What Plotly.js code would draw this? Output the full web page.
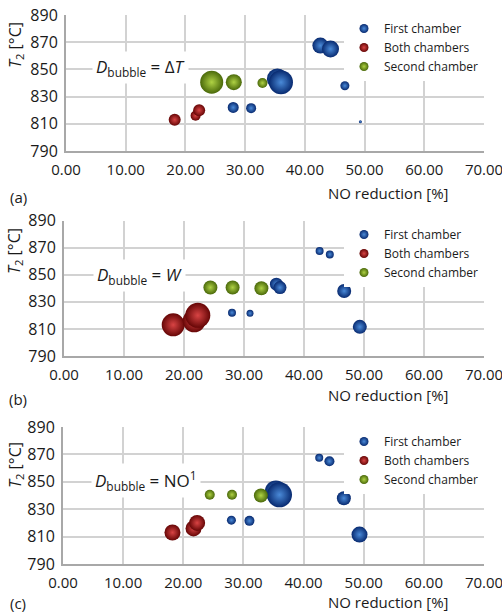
<!DOCTYPE html>
<html><head><meta charset="utf-8">
<script src="https://cdn.plot.ly/plotly-3.0.1.min.js"></script>
<style>html,body{margin:0;padding:0;background:#fff}#chart{width:502px;height:614px}</style>
</head><body><div id="chart"></div>
<script>
const seriesNames = ['First chamber', 'Both chambers', 'Second chamber'];
const firstX = [42.6, 44.3, 35.4, 36.0, 46.7, 28.0, 31.0, 49.3];
const firstY = [867.5, 865, 843, 840.5, 838, 822, 821.5, 811.5];
const bothX = [18.2, 21.7, 22.3];
const bothY = [813, 816, 820];
const secondX = [24.4, 28.1, 32.9];
const secondY = [840.6, 840.6, 840];
// bubble diameters per panel: (a) D = dT, (b) D = W, (c) D = NO1
const firstDT = [16, 17, 21, 24, 9, 11, 10, 3];
const bothDT = [12, 10, 12];
const secondDT = [23, 16, 10];
const firstW = [8, 8, 13, 13, 14, 8, 7, 14];
const bothW = [23, 23, 25];
const secondW = [14, 14, 14];
const firstNO1 = [8, 10, 22, 25, 14, 9, 10, 16];
const bothNO1 = [16, 16, 16];
const secondNO1 = [10, 10, 14];
const xTicks = [0, 10, 20, 30, 40, 50, 60, 70];
const yTicks = [790, 810, 830, 850, 870, 890];
const panelLabels = ['(a)', '(b)', '(c)'];
const bubbleLabels = ['<i>D</i><sub>bubble</sub> = Δ<i>T</i>', '<i>D</i><sub>bubble</sub> = <i>W</i>', '<i>D</i><sub>bubble</sub> = NO<sup>1</sup>'];
const xTitle = 'NO reduction [%]';
const yTitle = '<i>T</i><sub>2</sub> [°C]';

const W = 502, H = 614;
const FONT = 'Open Sans, Noto Sans, sans-serif';
const colors = [
  {edge: '#082a70', center: '#4a8ad8'},
  {edge: '#660606', center: '#d84444'},
  {edge: '#4a690a', center: '#afd244'}
];
const panels = [
  {l: 66, r: 484, top: 15, bot: 151, xt: 193, lab: 197, yt: 45, bx: 140, by: 67, legTop: 14},
  {l: 64, r: 484, top: 220.5, bot: 356, xt: 395.5, lab: 399, yt: 251, bx: 139, by: 275, legTop: 220},
  {l: 63, r: 484, top: 427, bot: 564, xt: 602, lab: 603, yt: 465, bx: 146, by: 480, legTop: 427}
];
const sizeSets = [
  [firstDT, bothDT, secondDT],
  [firstW, bothW, secondW],
  [firstNO1, bothNO1, secondNO1]
];
const xs = [firstX, bothX, secondX];
const ys = [firstY, bothY, secondY];

const px = v => v / W;
const py = v => 1 - v / H;

const traces = [];
const layout = {
  width: W, height: H,
  margin: {l: 0, r: 0, t: 0, b: 0},
  paper_bgcolor: '#fff', plot_bgcolor: '#fff',
  font: {family: FONT, color: '#1a1a1a'},
  showlegend: true,
  annotations: []
};

panels.forEach((p, i) => {
  const sfx = i === 0 ? '' : String(i + 1);
  const xa = 'x' + sfx, ya = 'y' + sfx;
  const legName = 'legend' + sfx;
  for (let s = 0; s < 3; s++) {
    traces.push({
      type: 'scatter', mode: 'markers', xaxis: xa, yaxis: ya,
      x: xs[s], y: ys[s], name: seriesNames[s], showlegend: false,
      hoverinfo: 'skip',
      marker: {size: sizeSets[i][s], sizemode: 'diameter', opacity: 1, color: colors[s].edge,
        gradient: {type: 'radial', color: colors[s].center}, line: {width: 0}}
    });
  }
  for (let s = 0; s < 3; s++) {
    traces.push({
      type: 'scatter', mode: 'markers', xaxis: xa, yaxis: ya,
      x: [null], y: [null], name: seriesNames[s], legend: legName, showlegend: true,
      marker: {size: 9, opacity: 1, color: colors[s].edge,
        gradient: {type: 'radial', color: colors[s].center}, line: {width: 0}}
    });
  }
  layout['xaxis' + sfx] = {
    domain: [px(p.l), px(p.r)], anchor: ya, range: [0, 70],
    tickvals: xTicks, tickformat: '.2f', ticks: '', ticklabelstandoff: 4,
    ticklabeloverflow: 'allow',
    showgrid: true, gridcolor: '#d2d2d2', gridwidth: 2,
    showline: true, linecolor: '#a8a8a8', linewidth: 2, zeroline: false,
    tickfont: {family: FONT, size: 15, color: '#1a1a1a'}, fixedrange: true
  };
  layout['yaxis' + sfx] = {
    domain: [py(p.bot), py(p.top)], anchor: xa, range: [790, 890],
    tickvals: yTicks, ticks: '', ticklabelstandoff: 3,
    showgrid: true, gridcolor: '#d2d2d2', gridwidth: 2,
    showline: true, linecolor: '#a8a8a8', linewidth: 2, zeroline: false,
    tickfont: {family: FONT, size: 16, color: '#1a1a1a'}, fixedrange: true
  };
  layout[legName] = {
    x: px(344), y: py(p.legTop), xanchor: 'left', yanchor: 'top',
    xref: 'paper', yref: 'paper',
    bgcolor: '#fff', borderwidth: 0,
    font: {family: FONT, size: 12, color: '#1a1a1a'}
  };
  layout.annotations.push(
    {xref: 'paper', yref: 'paper', x: px(388), y: py(p.xt), text: xTitle, showarrow: false,
     xanchor: 'center', yanchor: 'middle', font: {family: FONT, size: 15, color: '#1a1a1a'}},
    {xref: 'paper', yref: 'paper', x: px(18), y: py(p.lab), text: panelLabels[i], showarrow: false,
     xanchor: 'center', yanchor: 'middle', font: {family: FONT, size: 15, color: '#1a1a1a'}},
    {xref: 'paper', yref: 'paper', x: px(15), y: py(p.yt), text: yTitle, showarrow: false, textangle: -90,
     xanchor: 'center', yanchor: 'middle', font: {family: FONT, size: 16, color: '#1a1a1a'}},
    {xref: 'paper', yref: 'paper', x: px(p.bx), y: py(p.by), text: bubbleLabels[i], showarrow: false,
     xanchor: 'center', yanchor: 'middle', bgcolor: '#fff', borderpad: 3,
     font: {family: FONT, size: 17, color: '#1a1a1a'}}
  );
});

Plotly.newPlot('chart', traces, layout, {staticPlot: true, displayModeBar: false});
</script>
</body></html>
